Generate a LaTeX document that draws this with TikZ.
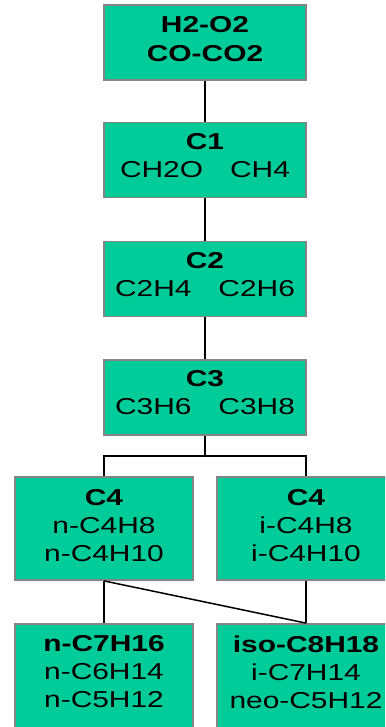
\documentclass[tikz,border=0pt]{standalone}
\usepackage{fontspec}
\setmainfont{Liberation Sans}[FakeStretch=1.3]
\definecolor{boxgreen}{HTML}{00CC99}
\definecolor{boxgray}{HTML}{858585}
\begin{document}
\begin{tikzpicture}[x=1pt,y=-1pt,
  box/.style={fill=boxgreen,draw=boxgray,line width=1.8pt,inner sep=0pt},
  wide/.style={minimum width=202pt,minimum height=75pt},
  narrow/.style={minimum width=178pt,minimum height=103pt},
  txt/.style={align=center,inner sep=0pt,font=\fontsize{23}{28}\selectfont},
  conn/.style={draw=black,line width=1.5pt}]
\useasboundingbox (0,0) rectangle (385,727);
\clip (0,0) rectangle (385,727);
% boxes
\node[box,wide] (h2) at (205,42.5) {};
\node[box,wide] (c1) at (205,160) {};
\node[box,wide] (c2) at (205,279) {};
\node[box,wide] (c3) at (205,397.5) {};
\node[box,narrow] (c4l) at (104,528.5) {};
\node[box,narrow] (c4r) at (306,528.5) {};
\node[box,minimum width=178pt,minimum height=110pt] (bl) at (104,679) {};
\node[box,minimum width=178pt,minimum height=110pt] (br) at (306,679) {};
% texts
\node[txt,font=\fontsize{23}{29}\selectfont\bfseries] (h2t) at (205,39) {H2-O2\\CO-CO2};
\node[txt] (c1t) at (205,156) {\textbf{C1}\\CH2O\hspace{27pt}CH4};
\node[txt] (c2t) at (205,275) {\textbf{C2}\\C2H4\hspace{27pt}C2H6};
\node[txt] (c3t) at (205,393) {\textbf{C3}\\C3H6\hspace{27pt}C3H8};
\node[txt] (c4lt) at (104,526) {\textbf{C4}\\n-C4H8\\n-C4H10};
\node[txt] (c4rt) at (306,526) {\textbf{C4}\\i-C4H8\\i-C4H10};
\node[txt] (blt) at (104,672) {\textbf{n-C7H16}\\n-C6H14\\n-C5H12};
\node[txt] (brt) at (306,672) {\textbf{iso-C8H18}\\i-C7H14\\neo-C5H12};
% connectors
\coordinate (bar) at (205,456);
\draw[conn] (h2.south) -- (c1.north);
\draw[conn] (c1.south) -- (c2.north);
\draw[conn] (c2.south) -- (c3.north);
\draw[conn] (c3.south) -- (bar);
\draw[conn] (c4l.north) -- (c4l.north |- bar) -- (c4r.north |- bar) -- (c4r.north);
\draw[conn] (c4l.south) -- (bl.north);
\draw[conn] (c4r.south) -- (br.north);
\draw[conn] (c4l.south) -- (br.north);
\end{tikzpicture}
\end{document}
